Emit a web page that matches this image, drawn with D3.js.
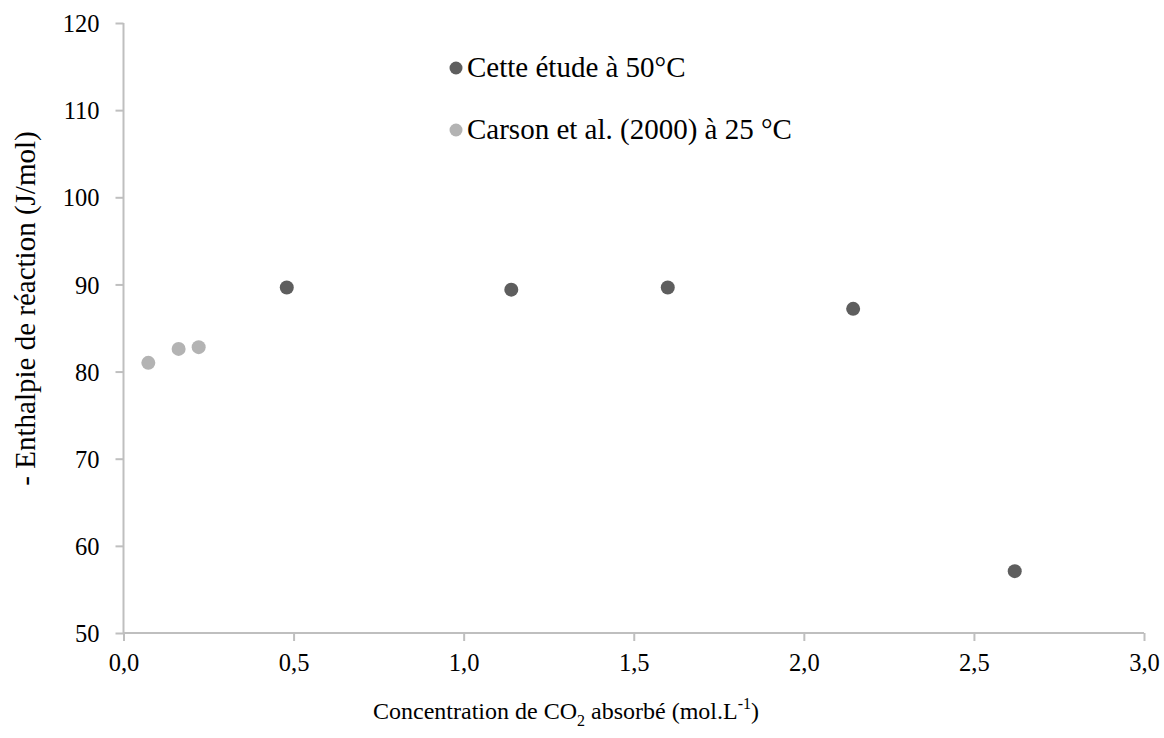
<!DOCTYPE html>
<html><head><meta charset="utf-8">
<script src="https://cdn.jsdelivr.net/npm/d3@7"></script>
<style>body{margin:0;background:#fff}</style>
</head><body><svg id="c" width="1164" height="738"></svg>
<script>
const seriesNames = ["Cette étude à 50°C", "Carson et al. (2000) à 25 °C"];
const studyX = [0.48, 1.14, 1.60, 2.145, 2.62];
const studyY = [89.65, 89.4, 89.65, 87.2, 57.1];
const carsonX = [0.073, 0.162, 0.221];
const carsonY = [81.0, 82.6, 82.8];
const xTicks = [0, 0.5, 1, 1.5, 2, 2.5, 3];
const yTicks = [50, 60, 70, 80, 90, 100, 110, 120];
const colors = ["#5e5e5e", "#b3b3b3"];

const FONT = "'Liberation Serif', 'Times New Roman', 'DejaVu Serif', serif";
const svg = d3.select("#c").style("font-family", FONT);
const x = d3.scaleLinear().domain([0, 3]).range([123.5, 1144]);
const y = d3.scaleLinear().domain([50, 120]).range([633, 23]);
const axisColor = "#bfbfbf";

const fmt = d => d3.format(".1f")(d).replace(".", ",");
const gx = svg.append("g").attr("transform", `translate(0,${y(50)})`)
  .call(d3.axisBottom(x).tickValues(xTicks).tickSize(8).tickPadding(13).tickFormat(fmt));
const gy = svg.append("g").attr("transform", `translate(${x(0)},0)`)
  .call(d3.axisLeft(y).tickValues(yTicks).tickSize(8).tickPadding(16).tickFormat(d3.format("d")));
[gx, gy].forEach(g => {
  g.attr("font-family", null).attr("font-size", null);
  g.select(".domain").attr("stroke", axisColor).attr("stroke-width", 2).attr("d",
    g === gx ? `M${x(0)},0H${x(3)}` : `M0,${y(50)}V${y(120)}`);
  g.selectAll(".tick line").attr("stroke", axisColor).attr("stroke-width", 2);
  g.selectAll(".tick text").style("font-family", FONT).style("font-size", "24.5px").attr("fill", "#000");
});
gy.selectAll(".tick text").attr("dy", "0.35em");

const data = [
  {name: seriesNames[0], xs: studyX, ys: studyY, color: colors[0]},
  {name: seriesNames[1], xs: carsonX, ys: carsonY, color: colors[1]}
];
data.forEach(s => {
  svg.append("g").selectAll("circle").data(s.xs.map((v, i) => [v, s.ys[i]])).join("circle")
    .attr("cx", d => x(d[0])).attr("cy", d => y(d[1])).attr("r", 7).attr("fill", s.color);
});

// legend
data.forEach((s, i) => {
  const base = 77 + i * 62;
  svg.append("circle").attr("cx", 456).attr("cy", base - 9).attr("r", 6.5).attr("fill", s.color);
  svg.append("text").attr("x", 467).attr("y", base)
    .style("font-family", FONT).style("font-size", "29px").text(s.name);
});

// x title
const xt = svg.append("text").attr("x", 566).attr("y", 719).attr("text-anchor", "middle")
  .style("font-family", FONT).style("font-size", "24px");
xt.append("tspan").text("Concentration de CO");
xt.append("tspan").style("font-size", "16px").attr("dy", 7).text("2");
xt.append("tspan").attr("dy", -7).text(" absorbé (mol.L");
xt.append("tspan").style("font-size", "16px").attr("dy", -10).text("-1");
xt.append("tspan").attr("dy", 10).text(")");

// y title
svg.append("text").attr("transform", `translate(35,308.5) rotate(-90)`)
  .attr("text-anchor", "middle")
  .style("font-family", FONT).style("font-size", "29px")
  .text("- Enthalpie de réaction (J/mol)");
</script></body></html>
